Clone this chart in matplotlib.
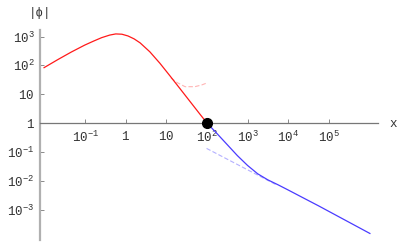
import matplotlib
matplotlib.use("Agg")
import matplotlib.pyplot as plt
import numpy as np

# values (log10 of x and of |phi|)
red_logx = [-2.02, -1.68, -1.35, -1.02, -0.80, -0.60, -0.40, -0.25, -0.10,
            0.05, 0.20, 0.35, 0.59, 0.84, 1.09, 1.33, 1.58, 1.83, 2.0]
red_logy = [1.92, 2.20, 2.46, 2.70, 2.84, 2.96, 3.05, 3.09, 3.08,
            3.02, 2.92, 2.78, 2.47, 2.07, 1.63, 1.20, 0.75, 0.30, 0.0]

blue_logx = [2.0, 2.25, 2.5, 2.75, 3.0, 3.25, 3.5, 3.75, 4.0,
             4.34, 4.75, 5.16, 5.57, 6.02]
blue_logy = [0.0, -0.37, -0.75, -1.13, -1.47, -1.76, -1.97, -2.14, -2.32,
             -2.57, -2.87, -3.18, -3.49, -3.83]

# asymptote guides (dashed)
red_asym_logx = [1.11, 1.28, 1.46, 1.70, 1.87, 2.0]
red_asym_logy = [1.56, 1.39, 1.26, 1.26, 1.32, 1.39]
blue_asym_logx = [1.99, 3.72]
blue_asym_logy = [-0.88, -2.15]

match_x, match_y = 100, 1

xticks = [1e-1, 1, 10, 1e2, 1e3, 1e4, 1e5]
xticklabels = ['$10^{-1}$', '$1$', '$10$', '$10^{2}$', '$10^{3}$', '$10^{4}$', '$10^{5}$']
yticks = [1e-3, 1e-2, 1e-1, 1, 10, 1e2, 1e3]
yticklabels = ['$10^{-3}$', '$10^{-2}$', '$10^{-1}$', '$1$', '$10$', '$10^{2}$', '$10^{3}$']

plt.rcParams['font.family'] = ['Liberation Mono', 'DejaVu Sans']
plt.rcParams['mathtext.fontset'] = 'custom'
plt.rcParams['mathtext.rm'] = 'Liberation Mono'
plt.rcParams['mathtext.it'] = 'Liberation Mono'
plt.rcParams['mathtext.default'] = 'rm'

fig = plt.figure(figsize=(4, 2.47), dpi=100)
ax = fig.add_axes([0.10, 0.028, 0.845, 0.851])

ax.plot(10 ** np.array(red_asym_logx), 10 ** np.array(red_asym_logy),
        color='#ffb4b4', lw=0.8, ls=(0, (4, 2)))
ax.plot(10 ** np.array(blue_asym_logx), 10 ** np.array(blue_asym_logy),
        color='#b4b0ff', lw=0.8, ls=(0, (4, 2)))
ax.plot(10 ** np.array(red_logx), 10 ** np.array(red_logy), color='#ff1a1a', lw=0.9)
ax.plot(10 ** np.array(blue_logx), 10 ** np.array(blue_logy), color='#4a3cff', lw=0.9)
ax.plot([match_x], [match_y], 'o', color='black', markersize=7, zorder=5, clip_on=False)

ax.set_xscale('log')
ax.set_yscale('log')
ax.set_xlim(10 ** -2.12, 10 ** 6.22)
ax.set_ylim(10 ** -4.06, 10 ** 3.23)

ax.spines['top'].set_visible(False)
ax.spines['right'].set_visible(False)
ax.spines['bottom'].set_position(('data', 1))
ax.spines['bottom'].set_color('#777777')
ax.spines['bottom'].set_linewidth(0.9)
ax.spines['left'].set_color('#b0b0b0')
ax.spines['left'].set_linewidth(1.6)

ax.set_xticks(xticks)
ax.set_xticklabels(xticklabels)
ax.set_yticks(yticks)
ax.set_yticklabels(yticklabels)
ax.minorticks_off()
ax.tick_params(direction='in', length=3, width=0.6, color='#777777',
               labelsize=9, labelcolor='#333333')
ax.tick_params(axis='x', pad=5)
ax.tick_params(axis='y', pad=4)
ax.patch.set_visible(False)

fig.text(40 / 400, 1 - 13 / 247, '|ϕ|', fontsize=9, color='#333333',
         ha='center', va='center')
fig.text(393 / 400, 1 - 124 / 247, 'x', fontsize=9, color='#333333',
         ha='center', va='center')

fig.savefig('out.png', dpi=100)
